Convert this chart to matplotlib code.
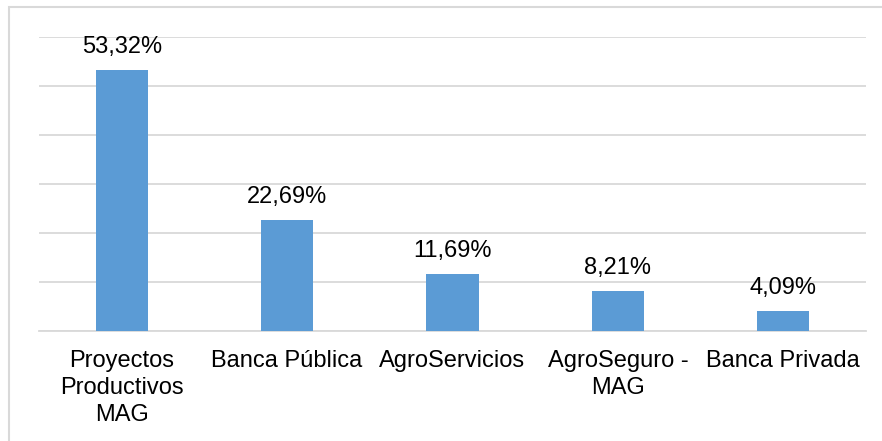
import matplotlib.pyplot as plt
from matplotlib.patches import Rectangle

plt.rcParams['font.family'] = ['Liberation Sans', 'DejaVu Sans']

categories = ['Proyectos\nProductivos\nMAG', 'Banca Pública', 'AgroServicios',
              'AgroSeguro -\nMAG', 'Banca Privada']
values = [53.32, 22.69, 11.69, 8.21, 4.09]

W, H = 882, 441
fig = plt.figure(figsize=(W / 100, H / 100), dpi=100)
ax = fig.add_axes([39 / W, 1 - 331 / H, (866 - 39) / W, (331 - 37) / H])

x = list(range(len(categories)))
bars = ax.bar(x, values, width=0.315, color='#5B9BD5', zorder=3)

for xi, v in zip(x, values):
    ax.annotate(f'{v:.2f}%'.replace('.', ','), (xi, v), xytext=(0, 8.5),
                textcoords='offset points', ha='center', va='bottom',
                fontsize=17, color='#000000')

ax.set_xlim(-0.5, len(categories) - 0.5)
ax.set_ylim(0, 60)
ax.set_yticks(range(0, 61, 10))
ax.yaxis.grid(True, color='#d9d9d9', linewidth=1.3, zorder=0)
ax.tick_params(axis='y', left=False, labelleft=False)
ax.tick_params(axis='x', bottom=False, pad=10)
ax.set_xticks(x)
ax.set_xticklabels(categories, fontsize=17, linespacing=1.3)
for s in ['top', 'right', 'left']:
    ax.spines[s].set_visible(False)
ax.spines['bottom'].set_color('#d9d9d9')
ax.spines['bottom'].set_linewidth(1.3)

# outer chart border (only top/left visible in the crop)
fig.patches.append(Rectangle((9 / W, -0.05), 1.0, 1 - 7 / H + 0.05,
                             transform=fig.transFigure, fill=False,
                             edgecolor='#d9d9d9', linewidth=1.5))

fig.savefig('out.png', dpi=100)
